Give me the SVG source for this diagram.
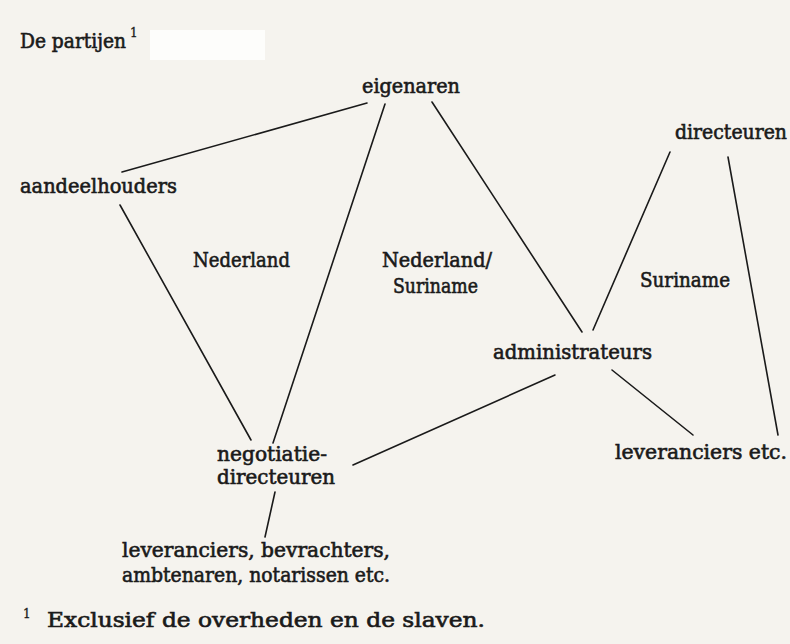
<svg xmlns="http://www.w3.org/2000/svg" width="790" height="644" viewBox="0 0 790 644">
<style>
.t{font-family:"DejaVu Serif","Liberation Serif",serif;font-size:19.5px;fill:#1a1a1a;stroke:#1a1a1a;stroke-width:0.6}
.s{font-family:"DejaVu Serif","Liberation Serif",serif;font-size:12px;fill:#1a1a1a;stroke:#1a1a1a;stroke-width:0.3}
.c line{stroke:#1a1a1a;stroke-width:1.6;stroke-linecap:round}
</style>
<rect width="790" height="644" fill="#f5f3ee"/>
<rect x="150" y="30" width="115" height="30" fill="#fdfdfb"/>
<g id="title">
<text class="t" x="20" y="48" textLength="106" lengthAdjust="spacingAndGlyphs">De partijen</text>
<text class="s" x="130" y="37">1</text>
</g>
<g class="c" id="connectors">
<line x1="367" y1="103" x2="122" y2="172"/>
<line x1="385" y1="104" x2="273" y2="443"/>
<line x1="120" y1="205" x2="251" y2="440"/>
<line x1="432" y1="102" x2="582" y2="332"/>
<line x1="670" y1="152" x2="593" y2="330"/>
<line x1="728" y1="157" x2="778" y2="435"/>
<line x1="555" y1="375" x2="353" y2="465"/>
<line x1="612" y1="370" x2="693" y2="435"/>
<line x1="275" y1="492" x2="265" y2="537"/>
</g>
<g id="eigenaren"><text class="t" x="362" y="93" textLength="98" lengthAdjust="spacingAndGlyphs">eigenaren</text></g>
<g id="directeuren"><text class="t" x="675" y="139" textLength="112" lengthAdjust="spacingAndGlyphs">directeuren</text></g>
<g id="aandeelhouders"><text class="t" x="20" y="193" textLength="157" lengthAdjust="spacingAndGlyphs">aandeelhouders</text></g>
<g id="label-nederland"><text class="t" x="193" y="267" textLength="97" lengthAdjust="spacingAndGlyphs">Nederland</text></g>
<g id="label-nederland-suriname">
<text class="t" x="382" y="267" textLength="110" lengthAdjust="spacingAndGlyphs">Nederland/</text>
<text class="t" x="393" y="293" textLength="85" lengthAdjust="spacingAndGlyphs">Suriname</text>
</g>
<g id="label-suriname"><text class="t" x="640" y="287" textLength="90" lengthAdjust="spacingAndGlyphs">Suriname</text></g>
<g id="administrateurs"><text class="t" x="493" y="359" textLength="159" lengthAdjust="spacingAndGlyphs">administrateurs</text></g>
<g id="leveranciers-etc"><text class="t" x="615" y="459" textLength="172" lengthAdjust="spacingAndGlyphs">leveranciers etc.</text></g>
<g id="negotiatiedirecteuren">
<text class="t" x="217" y="461" textLength="110" lengthAdjust="spacingAndGlyphs">negotiatie-</text>
<text class="t" x="217" y="484" textLength="118" lengthAdjust="spacingAndGlyphs">directeuren</text>
</g>
<g id="leveranciers-bevrachters">
<text class="t" x="122" y="557" textLength="268" lengthAdjust="spacingAndGlyphs">leveranciers, bevrachters,</text>
<text class="t" x="122" y="582" textLength="268" lengthAdjust="spacingAndGlyphs">ambtenaren, notarissen etc.</text>
</g>
<g id="footnote">
<text class="s" x="23" y="618">1</text>
<text class="t" x="47" y="627" textLength="438" lengthAdjust="spacingAndGlyphs">Exclusief de overheden en de slaven.</text>
</g>
</svg>
